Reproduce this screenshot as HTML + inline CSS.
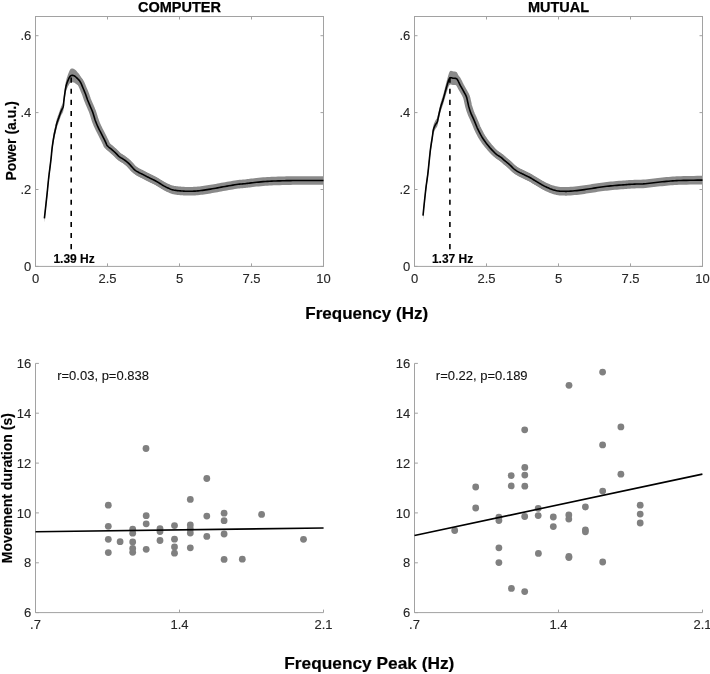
<!DOCTYPE html>
<html><head><meta charset="utf-8"><style>
html,body{margin:0;padding:0;background:#fff;width:710px;height:674px;overflow:hidden}
svg{display:block;will-change:transform}
text{font-family:"Liberation Sans",sans-serif}
.t{font-size:13px;fill:#262626;stroke:#262626;stroke-width:0.12}
.r13{font-size:13px;fill:#111;stroke:#111;stroke-width:0.1}
.b12{font-size:12px;font-weight:bold;fill:#000;stroke:#000;stroke-width:0.15}
.b14{font-size:14px;font-weight:bold;fill:#000;stroke:#000;stroke-width:0.15}
.tt{font-size:14.5px;font-weight:bold;fill:#000;stroke:#000;stroke-width:0.25}
.b17{font-size:17.3px;font-weight:bold;fill:#000;stroke:#000;stroke-width:0.2}
</style></head><body>
<svg width="710" height="674" viewBox="0 0 710 674">
<rect width="710" height="674" fill="#fff"/>
<polygon points="44.40,214.00 44.68,211.47 45.07,207.93 45.54,203.76 46.03,199.34 46.49,195.06 46.90,191.30 47.24,188.05 47.54,185.00 47.82,182.09 48.10,179.25 48.38,176.41 48.70,173.50 49.05,170.47 49.44,167.37 49.83,164.27 50.22,161.25 50.58,158.37 50.90,155.70 51.16,153.29 51.38,151.08 51.57,149.01 51.76,147.03 51.96,145.08 52.20,143.10 52.47,141.07 52.76,139.03 53.07,137.01 53.38,135.06 53.69,133.21 54.00,131.50 54.31,129.91 54.63,128.42 54.96,127.03 55.27,125.74 55.55,124.56 55.80,123.50 55.99,122.61 56.12,121.92 56.22,121.34 56.34,120.78 56.49,120.16 56.70,119.40 56.99,118.47 57.34,117.45 57.72,116.37 58.12,115.26 58.52,114.15 58.90,113.08 59.27,112.01 59.64,110.93 60.01,109.84 60.37,108.78 60.74,107.76 61.10,106.80 61.47,105.94 61.86,105.15 62.25,104.41 62.61,103.67 62.94,102.91 63.20,102.10 63.38,101.25 63.50,100.41 63.58,99.55 63.63,98.66 63.70,97.71 63.80,96.70 63.93,95.61 64.06,94.45 64.21,93.24 64.36,91.99 64.52,90.71 64.70,89.41 64.89,88.05 65.09,86.61 65.29,85.15 65.51,83.70 65.75,82.31 66.00,81.04 66.27,79.89 66.55,78.83 66.84,77.83 67.15,76.88 67.47,75.94 67.80,75.01 68.15,74.05 68.52,73.08 68.90,72.14 69.28,71.27 69.65,70.50 70.00,69.87 70.31,69.40 70.60,69.06 70.87,68.83 71.15,68.67 71.45,68.57 71.80,68.50 72.18,68.47 72.59,68.47 73.01,68.52 73.47,68.65 73.96,68.88 74.50,69.21 75.11,69.70 75.80,70.34 76.53,71.09 77.25,71.88 77.92,72.66 78.50,73.36 78.97,73.96 79.36,74.50 79.71,75.02 80.03,75.56 80.35,76.16 80.70,76.86 81.07,77.68 81.45,78.57 81.83,79.52 82.21,80.52 82.60,81.54 83.00,82.58 83.42,83.65 83.87,84.77 84.32,85.92 84.77,87.07 85.20,88.20 85.60,89.28 85.96,90.31 86.29,91.30 86.60,92.26 86.91,93.23 87.24,94.21 87.60,95.22 88.00,96.26 88.42,97.33 88.86,98.40 89.31,99.48 89.76,100.56 90.20,101.64 90.63,102.69 91.07,103.71 91.50,104.73 91.93,105.78 92.37,106.89 92.80,108.07 93.23,109.37 93.65,110.76 94.07,112.20 94.50,113.66 94.94,115.08 95.40,116.44 95.88,117.73 96.37,118.97 96.88,120.18 97.40,121.38 97.94,122.58 98.50,123.78 99.08,124.99 99.69,126.19 100.32,127.39 100.95,128.59 101.58,129.79 102.20,131.00 102.83,132.26 103.49,133.58 104.14,134.90 104.76,136.17 105.32,137.32 105.80,138.30 106.15,139.06 106.37,139.64 106.54,140.11 106.71,140.51 106.95,140.93 107.30,141.40 107.78,141.92 108.36,142.44 108.99,142.97 109.66,143.50 110.33,144.04 111.00,144.60 111.66,145.17 112.33,145.75 113.02,146.34 113.71,146.94 114.41,147.56 115.10,148.20 115.79,148.88 116.49,149.61 117.19,150.36 117.90,151.10 118.60,151.79 119.30,152.40 119.99,152.91 120.66,153.33 121.34,153.71 122.03,154.08 122.74,154.50 123.50,155.00 124.31,155.57 125.15,156.19 126.02,156.84 126.91,157.54 127.80,158.29 128.70,159.10 129.61,160.03 130.56,161.07 131.51,162.17 132.44,163.26 133.35,164.26 134.20,165.10 134.99,165.77 135.73,166.33 136.43,166.79 137.12,167.21 137.80,167.60 138.50,168.00 139.21,168.40 139.91,168.76 140.61,169.09 141.30,169.42 142.00,169.75 142.70,170.10 143.40,170.46 144.10,170.83 144.80,171.20 145.50,171.57 146.20,171.94 146.90,172.30 147.60,172.66 148.30,173.01 148.99,173.36 149.69,173.70 150.39,174.05 151.10,174.40 151.81,174.75 152.53,175.09 153.25,175.42 153.97,175.77 154.69,176.13 155.40,176.50 156.11,176.89 156.81,177.30 157.51,177.72 158.20,178.14 158.90,178.57 159.60,179.00 160.30,179.43 161.00,179.88 161.70,180.33 162.40,180.77 163.10,181.19 163.80,181.60 164.50,181.98 165.20,182.35 165.89,182.71 166.59,183.05 167.29,183.38 168.00,183.70 168.71,184.02 169.43,184.33 170.15,184.63 170.87,184.91 171.59,185.17 172.30,185.40 173.01,185.59 173.71,185.75 174.41,185.88 175.10,186.00 175.80,186.10 176.50,186.20 177.20,186.29 177.90,186.37 178.60,186.43 179.30,186.49 180.00,186.54 180.70,186.60 181.40,186.66 182.10,186.71 182.79,186.77 183.49,186.82 184.19,186.86 184.90,186.90 185.58,186.93 186.21,186.96 186.86,186.99 187.54,187.00 188.31,187.01 189.20,187.00 190.22,186.98 191.34,186.96 192.55,186.92 193.82,186.87 195.14,186.80 196.50,186.70 197.90,186.57 199.36,186.41 200.88,186.24 202.43,186.04 204.00,185.83 205.60,185.60 207.21,185.36 208.85,185.09 210.51,184.81 212.21,184.52 213.94,184.21 215.70,183.90 217.52,183.57 219.38,183.22 221.28,182.86 223.20,182.49 225.11,182.14 227.00,181.80 228.92,181.47 230.90,181.13 232.88,180.81 234.80,180.50 236.59,180.23 238.20,180.00 239.58,179.83 240.76,179.72 241.82,179.65 242.83,179.58 243.87,179.51 245.00,179.40 246.17,179.26 247.32,179.11 248.49,178.95 249.74,178.79 251.12,178.61 252.70,178.43 254.52,178.23 256.53,178.02 258.69,177.79 260.91,177.57 263.14,177.37 265.30,177.20 267.41,177.06 269.53,176.94 271.64,176.84 273.76,176.75 275.88,176.68 278.00,176.60 280.12,176.53 282.23,176.47 284.35,176.42 286.47,176.37 288.58,176.33 290.70,176.30 292.73,176.27 294.66,176.25 296.59,176.23 298.62,176.22 300.86,176.21 303.40,176.20 306.55,176.19 310.30,176.19 314.24,176.19 318.01,176.20 321.23,176.20 323.50,176.20 323.50,184.80 321.23,184.80 318.01,184.80 314.24,184.79 310.30,184.79 306.55,184.79 303.40,184.80 300.86,184.81 298.62,184.82 296.59,184.83 294.66,184.85 292.73,184.87 290.70,184.90 288.58,184.93 286.47,184.97 284.35,185.02 282.23,185.07 280.12,185.13 278.00,185.20 275.88,185.28 273.76,185.35 271.64,185.44 269.53,185.54 267.41,185.66 265.30,185.80 263.14,185.97 260.91,186.17 258.69,186.39 256.53,186.62 254.52,186.83 252.70,187.03 251.12,187.21 249.74,187.39 248.49,187.55 247.32,187.71 246.17,187.86 245.00,188.00 243.87,188.11 242.83,188.18 241.82,188.25 240.76,188.32 239.58,188.43 238.20,188.60 236.59,188.83 234.80,189.10 232.88,189.41 230.90,189.73 228.92,190.07 227.00,190.40 225.11,190.74 223.20,191.09 221.28,191.46 219.38,191.82 217.52,192.17 215.70,192.50 213.94,192.81 212.21,193.12 210.51,193.41 208.85,193.69 207.21,193.96 205.60,194.20 204.00,194.43 202.43,194.64 200.88,194.84 199.36,195.01 197.90,195.17 196.50,195.30 195.14,195.40 193.82,195.47 192.55,195.53 191.34,195.56 190.22,195.58 189.20,195.60 188.31,195.61 187.54,195.60 186.86,195.59 186.21,195.56 185.58,195.53 184.90,195.50 184.19,195.46 183.49,195.42 182.79,195.37 182.10,195.31 181.40,195.26 180.70,195.20 180.00,195.14 179.30,195.09 178.60,195.03 177.90,194.97 177.20,194.89 176.50,194.80 175.80,194.70 175.10,194.60 174.41,194.48 173.71,194.35 173.01,194.19 172.30,194.00 171.59,193.77 170.87,193.51 170.15,193.23 169.43,192.93 168.71,192.62 168.00,192.30 167.29,191.98 166.59,191.65 165.89,191.31 165.20,190.95 164.50,190.58 163.80,190.20 163.10,189.79 162.40,189.37 161.70,188.93 161.00,188.48 160.30,188.03 159.60,187.60 158.90,187.17 158.20,186.74 157.51,186.32 156.81,185.90 156.11,185.49 155.40,185.10 154.69,184.73 153.97,184.37 153.25,184.03 152.53,183.69 151.81,183.35 151.10,183.00 150.39,182.65 149.69,182.30 148.99,181.96 148.30,181.61 147.60,181.26 146.90,180.90 146.20,180.54 145.50,180.17 144.80,179.80 144.10,179.43 143.40,179.06 142.70,178.70 142.00,178.35 141.30,178.02 140.61,177.69 139.91,177.36 139.21,177.00 138.50,176.60 137.80,176.20 137.12,175.81 136.43,175.39 135.73,174.93 134.99,174.37 134.20,173.70 133.35,172.86 132.44,171.86 131.51,170.78 130.56,169.67 129.61,168.63 128.70,167.70 127.80,166.89 126.91,166.14 126.02,165.44 125.15,164.79 124.31,164.17 123.50,163.60 122.74,163.10 122.03,162.68 121.34,162.31 120.66,161.93 119.99,161.51 119.30,161.00 118.60,160.39 117.90,159.70 117.19,158.96 116.49,158.21 115.79,157.48 115.10,156.80 114.41,156.16 113.71,155.54 113.02,154.94 112.33,154.35 111.66,153.77 111.00,153.20 110.33,152.64 109.66,152.10 108.99,151.57 108.36,151.04 107.78,150.52 107.30,150.00 106.95,149.53 106.71,149.12 106.54,148.71 106.37,148.24 106.15,147.66 105.80,146.90 105.32,145.93 104.76,144.78 104.14,143.51 103.49,142.18 102.83,140.86 102.20,139.60 101.58,138.40 100.95,137.20 100.32,136.01 99.69,134.82 99.08,133.62 98.50,132.42 97.94,131.22 97.40,130.04 96.88,128.85 96.37,127.65 95.88,126.43 95.40,125.16 94.94,123.82 94.50,122.41 94.07,120.98 93.65,119.56 93.23,118.19 92.80,116.93 92.37,115.78 91.93,114.71 91.50,113.70 91.07,112.73 90.63,111.75 90.20,110.76 89.76,109.75 89.31,108.73 88.86,107.72 88.42,106.73 88.00,105.74 87.60,104.78 87.24,103.85 86.91,102.94 86.60,102.05 86.29,101.16 85.96,100.25 85.60,99.32 85.20,98.35 84.77,97.35 84.32,96.33 83.87,95.33 83.42,94.35 83.00,93.42 82.60,92.53 82.21,91.64 81.83,90.78 81.45,89.97 81.07,89.21 80.70,88.54 80.35,87.96 80.03,87.48 79.71,87.07 79.36,86.67 78.97,86.28 78.50,85.84 77.92,85.33 77.25,84.77 76.53,84.20 75.80,83.65 75.11,83.16 74.50,82.79 73.96,82.54 73.47,82.38 73.01,82.29 72.59,82.26 72.18,82.27 71.80,82.30 71.45,82.33 71.15,82.37 70.87,82.45 70.60,82.59 70.31,82.81 70.00,83.13 69.65,83.56 69.28,84.10 68.90,84.72 68.52,85.39 68.15,86.09 67.80,86.79 67.47,87.48 67.15,88.18 66.84,88.92 66.55,89.71 66.27,90.58 66.00,91.56 65.75,92.67 65.51,93.92 65.29,95.24 65.09,96.59 64.89,97.93 64.70,99.19 64.52,100.41 64.36,101.61 64.21,102.80 64.06,103.95 63.93,105.06 63.80,106.10 63.70,107.08 63.63,108.00 63.58,108.87 63.50,109.71 63.38,110.51 63.20,111.30 62.94,112.04 62.61,112.72 62.25,113.38 61.86,114.05 61.47,114.78 61.10,115.60 60.74,116.51 60.37,117.50 60.01,118.54 59.64,119.60 59.27,120.67 58.90,121.72 58.52,122.79 58.12,123.89 57.72,124.99 57.34,126.07 56.99,127.08 56.70,128.00 56.49,128.77 56.34,129.39 56.22,129.95 56.12,130.53 55.99,131.22 55.80,132.10 55.55,133.17 55.27,134.35 54.96,135.63 54.63,137.02 54.31,138.51 54.00,140.10 53.69,141.81 53.38,143.66 53.07,145.61 52.76,147.63 52.47,149.67 52.20,151.70 51.96,153.68 51.76,155.63 51.57,157.61 51.38,159.68 51.16,161.89 50.90,164.30 50.58,166.97 50.22,169.85 49.83,172.88 49.44,175.97 49.05,179.07 48.70,182.10 48.38,185.01 48.10,187.85 47.82,190.69 47.54,193.60 47.24,196.65 46.90,199.90 46.49,203.66 46.03,207.94 45.54,212.36 45.07,216.53 44.68,220.07 44.40,222.60" fill="#8a8a8a"/>
<polyline points="71.15,75.52 71.45,75.45 71.80,75.40 72.18,75.37 72.59,75.36 73.01,75.41 73.47,75.51 73.96,75.71 74.50,76.00 75.11,76.43 75.80,77.00 76.53,77.64 77.25,78.33 77.92,78.99 78.50,79.60 78.97,80.12 79.36,80.59 79.71,81.04 80.03,81.52 80.35,82.06 80.70,82.70 81.07,83.44 81.45,84.27 81.83,85.15 82.21,86.08 82.60,87.03 83.00,88.00 83.42,89.00 83.87,90.05 84.32,91.12 84.77,92.21 85.20,93.27 85.60,94.30 85.96,95.28 86.29,96.23 86.60,97.16 86.91,98.09 87.24,99.03 87.60,100.00 88.00,101.00 88.42,102.03 88.86,103.06 89.31,104.11 89.76,105.16 90.20,106.20 90.63,107.22 91.07,108.22 91.50,109.22 91.93,110.25 92.37,111.33 92.80,112.50 93.23,113.78 93.65,115.16 94.07,116.59 94.50,118.03 94.94,119.45 95.40,120.80 95.88,122.08 96.37,123.31 96.88,124.52 97.40,125.71 97.94,126.90 98.50,128.10 99.08,129.30 99.69,130.50 100.32,131.70 100.95,132.90 101.58,134.10 102.20,135.30 102.83,136.56 103.49,137.88 104.14,139.21 104.76,140.47 105.32,141.63 105.80,142.60 106.15,143.36 106.37,143.94 106.54,144.41 106.71,144.81 106.95,145.23 107.30,145.70 107.78,146.22 108.36,146.74 108.99,147.27 109.66,147.80 110.33,148.34 111.00,148.90 111.66,149.47 112.33,150.05 113.02,150.64 113.71,151.24 114.41,151.86 115.10,152.50 115.79,153.18 116.49,153.91 117.19,154.66 117.90,155.40 118.60,156.09 119.30,156.70 119.99,157.21 120.66,157.63 121.34,158.01 122.03,158.38 122.74,158.80 123.50,159.30 124.31,159.87 125.15,160.49 126.02,161.14 126.91,161.84 127.80,162.59 128.70,163.40 129.61,164.33 130.56,165.37 131.51,166.48 132.44,167.56 133.35,168.56 134.20,169.40 134.99,170.07 135.73,170.63 136.43,171.09 137.12,171.51 137.80,171.90 138.50,172.30 139.21,172.70 139.91,173.06 140.61,173.39 141.30,173.72 142.00,174.05 142.70,174.40 143.40,174.76 144.10,175.13 144.80,175.50 145.50,175.87 146.20,176.24 146.90,176.60 147.60,176.96 148.30,177.31 148.99,177.66 149.69,178.00 150.39,178.35 151.10,178.70 151.81,179.05 152.53,179.39 153.25,179.72 153.97,180.07 154.69,180.43 155.40,180.80 156.11,181.19 156.81,181.60 157.51,182.02 158.20,182.44 158.90,182.87 159.60,183.30 160.30,183.73 161.00,184.18 161.70,184.63 162.40,185.07 163.10,185.49 163.80,185.90 164.50,186.28 165.20,186.65 165.89,187.01 166.59,187.35 167.29,187.68 168.00,188.00 168.71,188.32 169.43,188.63 170.15,188.93 170.87,189.21 171.59,189.47 172.30,189.70 173.01,189.89 173.71,190.05 174.41,190.18 175.10,190.30 175.80,190.40 176.50,190.50 177.20,190.59 177.90,190.67 178.60,190.73 179.30,190.79 180.00,190.84 180.70,190.90 181.40,190.96 182.10,191.01 182.79,191.07 183.49,191.12 184.19,191.16 184.90,191.20 185.58,191.23 186.21,191.26 186.86,191.29 187.54,191.30 188.31,191.31 189.20,191.30 190.22,191.28 191.34,191.26 192.55,191.22 193.82,191.17 195.14,191.10 196.50,191.00 197.90,190.87 199.36,190.71 200.88,190.54 202.43,190.34 204.00,190.13 205.60,189.90 207.21,189.66 208.85,189.39 210.51,189.11 212.21,188.82 213.94,188.51 215.70,188.20 217.52,187.87 219.38,187.52 221.28,187.16 223.20,186.79 225.11,186.44 227.00,186.10 228.92,185.77 230.90,185.43 232.88,185.11 234.80,184.80 236.59,184.53 238.20,184.30 239.58,184.13 240.76,184.02 241.82,183.95 242.83,183.88 243.87,183.81 245.00,183.70 246.17,183.56 247.32,183.41 248.49,183.25 249.74,183.09 251.12,182.91 252.70,182.73 254.52,182.53 256.53,182.32 258.69,182.09 260.91,181.87 263.14,181.67 265.30,181.50 267.41,181.36 269.53,181.24 271.64,181.14 273.76,181.05 275.88,180.98 278.00,180.90 280.12,180.83 282.23,180.77 284.35,180.72 286.47,180.67 288.58,180.63 290.70,180.60 292.73,180.57 294.66,180.55 296.59,180.53 298.62,180.52 300.86,180.51 303.40,180.50 306.55,180.49 310.30,180.49 314.24,180.49 318.01,180.50 321.23,180.50 323.50,180.50" fill="none" stroke="#8a8a8a" stroke-width="7" stroke-linejoin="round"/>
<rect x="35.5" y="16.5" width="288.0" height="249.9" fill="none" stroke="#a2a2a2" stroke-width="1"/>
<line x1="35.5" y1="266.4" x2="35.5" y2="263.4" stroke="#a2a2a2" stroke-width="1"/>
<line x1="35.5" y1="16.5" x2="35.5" y2="19.5" stroke="#a2a2a2" stroke-width="1"/>
<line x1="107.5" y1="266.4" x2="107.5" y2="263.4" stroke="#a2a2a2" stroke-width="1"/>
<line x1="107.5" y1="16.5" x2="107.5" y2="19.5" stroke="#a2a2a2" stroke-width="1"/>
<line x1="179.5" y1="266.4" x2="179.5" y2="263.4" stroke="#a2a2a2" stroke-width="1"/>
<line x1="179.5" y1="16.5" x2="179.5" y2="19.5" stroke="#a2a2a2" stroke-width="1"/>
<line x1="251.5" y1="266.4" x2="251.5" y2="263.4" stroke="#a2a2a2" stroke-width="1"/>
<line x1="251.5" y1="16.5" x2="251.5" y2="19.5" stroke="#a2a2a2" stroke-width="1"/>
<line x1="323.5" y1="266.4" x2="323.5" y2="263.4" stroke="#a2a2a2" stroke-width="1"/>
<line x1="323.5" y1="16.5" x2="323.5" y2="19.5" stroke="#a2a2a2" stroke-width="1"/>
<line x1="35.5" y1="266.4" x2="38.5" y2="266.4" stroke="#a2a2a2" stroke-width="1"/>
<line x1="323.5" y1="266.4" x2="320.5" y2="266.4" stroke="#a2a2a2" stroke-width="1"/>
<text x="31.3" y="271.0" text-anchor="end" class="t">0</text>
<line x1="35.5" y1="189.5" x2="38.5" y2="189.5" stroke="#a2a2a2" stroke-width="1"/>
<line x1="323.5" y1="189.5" x2="320.5" y2="189.5" stroke="#a2a2a2" stroke-width="1"/>
<text x="31.3" y="194.1" text-anchor="end" class="t">.2</text>
<line x1="35.5" y1="112.6" x2="38.5" y2="112.6" stroke="#a2a2a2" stroke-width="1"/>
<line x1="323.5" y1="112.6" x2="320.5" y2="112.6" stroke="#a2a2a2" stroke-width="1"/>
<text x="31.3" y="117.2" text-anchor="end" class="t">.4</text>
<line x1="35.5" y1="35.7" x2="38.5" y2="35.7" stroke="#a2a2a2" stroke-width="1"/>
<line x1="323.5" y1="35.7" x2="320.5" y2="35.7" stroke="#a2a2a2" stroke-width="1"/>
<text x="31.3" y="40.3" text-anchor="end" class="t">.6</text>
<text x="35.5" y="282.8" text-anchor="middle" class="t">0</text>
<text x="107.5" y="282.8" text-anchor="middle" class="t">2.5</text>
<text x="179.5" y="282.8" text-anchor="middle" class="t">5</text>
<text x="251.5" y="282.8" text-anchor="middle" class="t">7.5</text>
<text x="323.5" y="282.8" text-anchor="middle" class="t">10</text>
<polyline points="44.40,218.30 44.68,215.77 45.07,212.23 45.54,208.06 46.03,203.64 46.49,199.36 46.90,195.60 47.24,192.35 47.54,189.30 47.82,186.39 48.10,183.55 48.38,180.71 48.70,177.80 49.05,174.77 49.44,171.67 49.83,168.58 50.22,165.55 50.58,162.67 50.90,160.00 51.16,157.59 51.38,155.38 51.57,153.31 51.76,151.33 51.96,149.38 52.20,147.40 52.47,145.37 52.76,143.33 53.07,141.31 53.38,139.36 53.69,137.51 54.00,135.80 54.31,134.21 54.63,132.72 54.96,131.33 55.27,130.04 55.55,128.87 55.80,127.80 55.99,126.92 56.12,126.23 56.22,125.64 56.34,125.09 56.49,124.47 56.70,123.70 56.99,122.78 57.34,121.76 57.72,120.68 58.12,119.57 58.52,118.47 58.90,117.40 59.27,116.34 59.64,115.26 60.01,114.19 60.37,113.14 60.74,112.13 61.10,111.20 61.47,110.36 61.86,109.60 62.25,108.89 62.61,108.20 62.94,107.48 63.20,106.70 63.38,105.88 63.50,105.06 63.58,104.21 63.63,103.33 63.70,102.40 63.80,101.40 63.93,100.33 64.06,99.20 64.21,98.02 64.36,96.80 64.52,95.56 64.70,94.30 64.89,92.99 65.09,91.60 65.29,90.19 65.51,88.81 65.75,87.49 66.00,86.30 66.27,85.24 66.55,84.27 66.84,83.38 67.15,82.53 67.47,81.71 67.80,80.90 68.15,80.07 68.52,79.24 68.90,78.43 69.28,77.69 69.65,77.03 70.00,76.50 70.31,76.11 70.60,75.83 70.87,75.64 71.15,75.52 71.45,75.45 71.80,75.40 72.18,75.37 72.59,75.36 73.01,75.41 73.47,75.51 73.96,75.71 74.50,76.00 75.11,76.43 75.80,77.00 76.53,77.64 77.25,78.33 77.92,78.99 78.50,79.60 78.97,80.12 79.36,80.59 79.71,81.04 80.03,81.52 80.35,82.06 80.70,82.70 81.07,83.44 81.45,84.27 81.83,85.15 82.21,86.08 82.60,87.03 83.00,88.00 83.42,89.00 83.87,90.05 84.32,91.12 84.77,92.21 85.20,93.27 85.60,94.30 85.96,95.28 86.29,96.23 86.60,97.16 86.91,98.09 87.24,99.03 87.60,100.00 88.00,101.00 88.42,102.03 88.86,103.06 89.31,104.11 89.76,105.16 90.20,106.20 90.63,107.22 91.07,108.22 91.50,109.22 91.93,110.25 92.37,111.33 92.80,112.50 93.23,113.78 93.65,115.16 94.07,116.59 94.50,118.03 94.94,119.45 95.40,120.80 95.88,122.08 96.37,123.31 96.88,124.52 97.40,125.71 97.94,126.90 98.50,128.10 99.08,129.30 99.69,130.50 100.32,131.70 100.95,132.90 101.58,134.10 102.20,135.30 102.83,136.56 103.49,137.88 104.14,139.21 104.76,140.47 105.32,141.63 105.80,142.60 106.15,143.36 106.37,143.94 106.54,144.41 106.71,144.81 106.95,145.23 107.30,145.70 107.78,146.22 108.36,146.74 108.99,147.27 109.66,147.80 110.33,148.34 111.00,148.90 111.66,149.47 112.33,150.05 113.02,150.64 113.71,151.24 114.41,151.86 115.10,152.50 115.79,153.18 116.49,153.91 117.19,154.66 117.90,155.40 118.60,156.09 119.30,156.70 119.99,157.21 120.66,157.63 121.34,158.01 122.03,158.38 122.74,158.80 123.50,159.30 124.31,159.87 125.15,160.49 126.02,161.14 126.91,161.84 127.80,162.59 128.70,163.40 129.61,164.33 130.56,165.37 131.51,166.48 132.44,167.56 133.35,168.56 134.20,169.40 134.99,170.07 135.73,170.63 136.43,171.09 137.12,171.51 137.80,171.90 138.50,172.30 139.21,172.70 139.91,173.06 140.61,173.39 141.30,173.72 142.00,174.05 142.70,174.40 143.40,174.76 144.10,175.13 144.80,175.50 145.50,175.87 146.20,176.24 146.90,176.60 147.60,176.96 148.30,177.31 148.99,177.66 149.69,178.00 150.39,178.35 151.10,178.70 151.81,179.05 152.53,179.39 153.25,179.72 153.97,180.07 154.69,180.43 155.40,180.80 156.11,181.19 156.81,181.60 157.51,182.02 158.20,182.44 158.90,182.87 159.60,183.30 160.30,183.73 161.00,184.18 161.70,184.63 162.40,185.07 163.10,185.49 163.80,185.90 164.50,186.28 165.20,186.65 165.89,187.01 166.59,187.35 167.29,187.68 168.00,188.00 168.71,188.32 169.43,188.63 170.15,188.93 170.87,189.21 171.59,189.47 172.30,189.70 173.01,189.89 173.71,190.05 174.41,190.18 175.10,190.30 175.80,190.40 176.50,190.50 177.20,190.59 177.90,190.67 178.60,190.73 179.30,190.79 180.00,190.84 180.70,190.90 181.40,190.96 182.10,191.01 182.79,191.07 183.49,191.12 184.19,191.16 184.90,191.20 185.58,191.23 186.21,191.26 186.86,191.29 187.54,191.30 188.31,191.31 189.20,191.30 190.22,191.28 191.34,191.26 192.55,191.22 193.82,191.17 195.14,191.10 196.50,191.00 197.90,190.87 199.36,190.71 200.88,190.54 202.43,190.34 204.00,190.13 205.60,189.90 207.21,189.66 208.85,189.39 210.51,189.11 212.21,188.82 213.94,188.51 215.70,188.20 217.52,187.87 219.38,187.52 221.28,187.16 223.20,186.79 225.11,186.44 227.00,186.10 228.92,185.77 230.90,185.43 232.88,185.11 234.80,184.80 236.59,184.53 238.20,184.30 239.58,184.13 240.76,184.02 241.82,183.95 242.83,183.88 243.87,183.81 245.00,183.70 246.17,183.56 247.32,183.41 248.49,183.25 249.74,183.09 251.12,182.91 252.70,182.73 254.52,182.53 256.53,182.32 258.69,182.09 260.91,181.87 263.14,181.67 265.30,181.50 267.41,181.36 269.53,181.24 271.64,181.14 273.76,181.05 275.88,180.98 278.00,180.90 280.12,180.83 282.23,180.77 284.35,180.72 286.47,180.67 288.58,180.63 290.70,180.60 292.73,180.57 294.66,180.55 296.59,180.53 298.62,180.52 300.86,180.51 303.40,180.50 306.55,180.49 310.30,180.49 314.24,180.49 318.01,180.50 321.23,180.50 323.50,180.50" fill="none" stroke="#000" stroke-width="1.6" stroke-linejoin="round"/>
<line x1="71.2" y1="77.6" x2="71.2" y2="249.2" stroke="#000" stroke-width="1.6" stroke-dasharray="5.1 6"/>
<text x="53.4" y="263" class="b12">1.39 Hz</text>
<text x="179.5" y="11.8" text-anchor="middle" class="tt">COMPUTER</text>
<polygon points="423.00,211.40 423.18,209.68 423.42,207.27 423.71,204.44 424.01,201.41 424.32,198.45 424.60,195.80 424.85,193.44 425.10,191.17 425.34,188.96 425.58,186.78 425.83,184.60 426.10,182.40 426.39,180.18 426.69,177.96 427.01,175.75 427.32,173.54 427.62,171.32 427.90,169.10 428.16,166.85 428.40,164.58 428.63,162.30 428.86,160.04 429.08,157.84 429.30,155.70 429.52,153.65 429.72,151.67 429.93,149.74 430.13,147.83 430.36,145.92 430.60,144.00 430.88,142.01 431.19,139.96 431.52,137.91 431.84,135.92 432.14,134.07 432.40,132.40 432.60,130.94 432.76,129.65 432.89,128.48 433.02,127.41 433.18,126.39 433.40,125.40 433.68,124.44 434.00,123.54 434.34,122.70 434.70,121.91 435.06,121.18 435.40,120.50 435.73,119.93 436.06,119.50 436.38,119.12 436.70,118.71 437.01,118.19 437.30,117.49 437.57,116.59 437.81,115.55 438.05,114.39 438.29,113.17 438.53,111.92 438.80,110.68 439.09,109.42 439.38,108.11 439.69,106.77 440.01,105.42 440.34,104.06 440.70,102.73 441.08,101.41 441.49,100.11 441.92,98.80 442.35,97.47 442.78,96.11 443.20,94.70 443.61,93.20 444.02,91.63 444.43,90.01 444.83,88.41 445.22,86.84 445.60,85.37 445.96,83.97 446.31,82.61 446.66,81.30 446.99,80.05 447.30,78.88 447.60,77.78 447.88,76.77 448.14,75.82 448.39,74.95 448.63,74.16 448.86,73.46 449.10,72.84 449.33,72.33 449.53,71.92 449.74,71.59 449.96,71.33 450.20,71.12 450.50,70.96 450.85,70.86 451.24,70.87 451.66,70.95 452.10,71.07 452.55,71.21 453.00,71.32 453.48,71.39 453.99,71.45 454.51,71.52 455.02,71.60 455.49,71.71 455.90,71.86 456.21,71.99 456.44,72.07 456.62,72.17 456.82,72.36 457.06,72.71 457.40,73.28 457.85,74.13 458.37,75.24 458.94,76.50 459.53,77.84 460.13,79.15 460.70,80.36 461.26,81.49 461.83,82.60 462.41,83.69 462.97,84.75 463.50,85.77 464.00,86.74 464.46,87.66 464.91,88.51 465.33,89.32 465.71,90.13 466.07,90.94 466.40,91.78 466.68,92.67 466.91,93.56 467.12,94.47 467.31,95.39 467.50,96.31 467.70,97.23 467.91,98.14 468.11,99.04 468.31,99.95 468.51,100.86 468.74,101.79 469.00,102.75 469.29,103.75 469.60,104.78 469.93,105.83 470.28,106.87 470.64,107.90 471.00,108.89 471.38,109.83 471.77,110.74 472.18,111.63 472.59,112.52 473.00,113.40 473.40,114.29 473.79,115.20 474.18,116.12 474.57,117.04 474.95,117.96 475.33,118.86 475.70,119.75 476.04,120.58 476.35,121.37 476.66,122.14 476.98,122.94 477.35,123.81 477.80,124.77 478.33,125.88 478.93,127.09 479.57,128.36 480.24,129.65 480.92,130.91 481.60,132.09 482.27,133.19 482.93,134.24 483.61,135.26 484.31,136.26 485.04,137.27 485.80,138.30 486.61,139.36 487.46,140.43 488.34,141.51 489.23,142.58 490.12,143.61 491.00,144.60 491.87,145.55 492.73,146.47 493.60,147.37 494.47,148.23 495.33,149.04 496.20,149.80 497.09,150.50 497.99,151.13 498.90,151.72 499.79,152.29 500.63,152.84 501.40,153.40 502.09,153.95 502.70,154.49 503.26,155.01 503.81,155.53 504.38,156.06 505.00,156.60 505.66,157.15 506.35,157.69 507.06,158.24 507.77,158.80 508.49,159.38 509.20,160.00 509.91,160.67 510.63,161.39 511.35,162.12 512.07,162.86 512.79,163.56 513.50,164.20 514.21,164.78 514.91,165.32 515.61,165.83 516.30,166.31 517.00,166.77 517.70,167.20 518.40,167.60 519.10,167.97 519.80,168.31 520.50,168.63 521.20,168.96 521.90,169.30 522.60,169.65 523.30,170.00 523.99,170.35 524.69,170.70 525.39,171.05 526.10,171.40 526.81,171.74 527.53,172.08 528.25,172.42 528.97,172.76 529.69,173.12 530.40,173.50 531.11,173.91 531.81,174.33 532.51,174.78 533.20,175.22 533.90,175.67 534.60,176.10 535.30,176.52 536.00,176.94 536.70,177.36 537.40,177.77 538.10,178.18 538.80,178.60 539.50,179.02 540.20,179.45 540.89,179.87 541.59,180.30 542.29,180.71 543.00,181.10 543.71,181.48 544.43,181.84 545.15,182.20 545.87,182.54 546.59,182.88 547.30,183.20 548.01,183.51 548.71,183.81 549.41,184.10 550.10,184.38 550.80,184.64 551.50,184.90 552.20,185.15 552.90,185.39 553.60,185.61 554.30,185.83 555.00,186.02 555.70,186.20 556.40,186.36 557.10,186.50 557.79,186.62 558.49,186.73 559.19,186.82 559.90,186.90 560.62,186.95 561.36,186.98 562.11,186.99 562.84,187.00 563.54,187.00 564.20,187.00 564.72,187.02 565.08,187.04 565.41,187.06 565.84,187.07 566.50,187.05 567.50,187.00 568.92,186.91 570.67,186.80 572.65,186.66 574.74,186.49 576.82,186.31 578.80,186.10 580.68,185.86 582.57,185.59 584.46,185.30 586.34,184.99 588.22,184.69 590.10,184.40 591.97,184.12 593.84,183.83 595.70,183.54 597.56,183.26 599.43,182.99 601.30,182.73 603.16,182.49 605.02,182.26 606.88,182.03 608.75,181.82 610.65,181.62 612.60,181.42 614.66,181.23 616.83,181.04 619.03,180.86 621.17,180.69 623.19,180.54 625.00,180.40 626.50,180.29 627.73,180.19 628.84,180.12 629.94,180.05 631.19,179.98 632.70,179.90 634.52,179.83 636.53,179.77 638.69,179.71 640.91,179.63 643.14,179.54 645.30,179.40 647.41,179.22 649.53,179.00 651.64,178.75 653.76,178.49 655.88,178.24 658.00,178.00 660.12,177.77 662.23,177.53 664.35,177.30 666.47,177.08 668.58,176.88 670.70,176.70 672.74,176.56 674.70,176.44 676.65,176.34 678.69,176.25 680.91,176.17 683.40,176.10 686.43,176.03 690.00,175.97 693.74,175.91 697.31,175.87 700.35,175.83 702.50,175.80 702.50,184.40 700.35,184.43 697.31,184.47 693.74,184.51 690.00,184.57 686.43,184.63 683.40,184.70 680.91,184.77 678.69,184.85 676.65,184.94 674.70,185.04 672.74,185.16 670.70,185.30 668.58,185.48 666.47,185.68 664.35,185.90 662.23,186.13 660.12,186.37 658.00,186.60 655.88,186.84 653.76,187.09 651.64,187.35 649.53,187.60 647.41,187.82 645.30,188.00 643.14,188.14 640.91,188.23 638.69,188.31 636.53,188.37 634.52,188.43 632.70,188.50 631.19,188.58 629.94,188.65 628.84,188.72 627.73,188.79 626.50,188.89 625.00,189.00 623.19,189.14 621.17,189.29 619.03,189.46 616.83,189.64 614.66,189.83 612.60,190.02 610.65,190.22 608.75,190.42 606.88,190.63 605.02,190.86 603.16,191.09 601.30,191.33 599.43,191.59 597.56,191.86 595.70,192.14 593.84,192.43 591.97,192.72 590.10,193.00 588.22,193.29 586.34,193.59 584.46,193.90 582.57,194.19 580.68,194.46 578.80,194.70 576.82,194.91 574.74,195.09 572.65,195.26 570.67,195.40 568.92,195.51 567.50,195.60 566.50,195.65 565.84,195.67 565.41,195.66 565.08,195.64 564.72,195.62 564.20,195.60 563.54,195.60 562.84,195.60 562.11,195.59 561.36,195.58 560.62,195.55 559.90,195.50 559.19,195.43 558.49,195.33 557.79,195.22 557.10,195.10 556.40,194.96 555.70,194.80 555.00,194.62 554.30,194.43 553.60,194.21 552.90,193.99 552.20,193.75 551.50,193.50 550.80,193.24 550.10,192.98 549.41,192.70 548.71,192.41 548.01,192.11 547.30,191.80 546.59,191.48 545.87,191.14 545.15,190.80 544.43,190.44 543.71,190.08 543.00,189.70 542.29,189.31 541.59,188.90 540.89,188.47 540.20,188.05 539.50,187.62 538.80,187.20 538.10,186.78 537.40,186.37 536.70,185.96 536.00,185.54 535.30,185.12 534.60,184.70 533.90,184.27 533.20,183.82 532.51,183.38 531.81,182.93 531.11,182.51 530.40,182.10 529.69,181.72 528.97,181.36 528.25,181.02 527.53,180.68 526.81,180.34 526.10,180.00 525.39,179.65 524.69,179.30 523.99,178.95 523.30,178.60 522.60,178.25 521.90,177.90 521.20,177.56 520.50,177.23 519.80,176.91 519.10,176.57 518.40,176.20 517.70,175.80 517.00,175.37 516.30,174.91 515.61,174.43 514.91,173.92 514.21,173.38 513.50,172.80 512.79,172.16 512.07,171.46 511.35,170.73 510.63,169.99 509.91,169.27 509.20,168.60 508.49,167.98 507.77,167.40 507.06,166.84 506.35,166.29 505.66,165.75 505.00,165.20 504.38,164.66 503.81,164.13 503.26,163.61 502.70,163.09 502.09,162.55 501.40,162.00 500.63,161.44 499.79,160.89 498.90,160.33 497.99,159.73 497.09,159.10 496.20,158.40 495.33,157.64 494.47,156.83 493.60,155.97 492.73,155.07 491.87,154.15 491.00,153.20 490.12,152.21 489.23,151.18 488.34,150.11 487.46,149.03 486.61,147.96 485.80,146.90 485.04,145.87 484.31,144.87 483.61,143.87 482.93,142.85 482.27,141.80 481.60,140.71 480.92,139.53 480.24,138.27 479.57,136.99 478.93,135.72 478.33,134.52 477.80,133.43 477.35,132.47 476.98,131.61 476.66,130.82 476.35,130.05 476.04,129.28 475.70,128.45 475.33,127.58 474.95,126.69 474.57,125.79 474.18,124.89 473.79,123.99 473.40,123.11 473.00,122.24 472.59,121.39 472.18,120.54 471.77,119.69 471.38,118.81 471.00,117.91 470.64,116.97 470.28,115.99 469.93,114.99 469.60,113.98 469.29,113.00 469.00,112.05 468.74,111.14 468.51,110.24 468.31,109.37 468.11,108.50 467.91,107.64 467.70,106.77 467.50,105.89 467.31,105.01 467.12,104.14 466.91,103.27 466.68,102.43 466.40,101.62 466.07,100.85 465.71,100.13 465.33,99.44 464.91,98.74 464.46,98.02 464.00,97.26 463.50,96.44 462.97,95.60 462.41,94.74 461.83,93.85 461.26,92.95 460.70,92.04 460.13,91.04 459.53,89.94 458.94,88.82 458.37,87.76 457.85,86.84 457.40,86.12 457.06,85.66 456.82,85.39 456.62,85.25 456.44,85.20 456.21,85.19 455.90,85.14 455.49,85.09 455.02,85.08 454.51,85.09 453.99,85.11 453.48,85.11 453.00,85.08 452.55,85.00 452.10,84.87 451.66,84.73 451.24,84.58 450.85,84.48 450.50,84.44 450.20,84.48 449.96,84.56 449.74,84.70 449.53,84.91 449.33,85.19 449.10,85.56 448.86,86.01 448.63,86.55 448.39,87.17 448.14,87.86 447.88,88.61 447.60,89.42 447.30,90.29 446.99,91.24 446.66,92.25 446.31,93.33 445.96,94.46 445.60,95.63 445.22,96.89 444.83,98.25 444.43,99.67 444.02,101.11 443.61,102.54 443.20,103.90 442.78,105.20 442.35,106.47 441.92,107.71 441.49,108.95 441.08,110.20 440.70,111.47 440.34,112.78 440.01,114.11 439.69,115.45 439.38,116.78 439.09,118.07 438.80,119.32 438.53,120.56 438.29,121.80 438.05,123.02 437.81,124.17 437.57,125.21 437.30,126.11 437.01,126.80 436.70,127.32 436.38,127.72 436.06,128.10 435.73,128.54 435.40,129.10 435.06,129.78 434.70,130.52 434.34,131.30 434.00,132.14 433.68,133.04 433.40,134.00 433.18,134.99 433.02,136.01 432.89,137.08 432.76,138.25 432.60,139.54 432.40,141.00 432.14,142.67 431.84,144.52 431.52,146.51 431.19,148.56 430.88,150.61 430.60,152.60 430.36,154.52 430.13,156.43 429.93,158.34 429.72,160.27 429.52,162.25 429.30,164.30 429.08,166.44 428.86,168.64 428.63,170.90 428.40,173.18 428.16,175.45 427.90,177.70 427.62,179.92 427.32,182.14 427.01,184.35 426.69,186.56 426.39,188.78 426.10,191.00 425.83,193.20 425.58,195.38 425.34,197.56 425.10,199.77 424.85,202.04 424.60,204.40 424.32,207.05 424.01,210.01 423.71,213.04 423.42,215.87 423.18,218.28 423.00,220.00" fill="#8a8a8a"/>
<polyline points="451.24,77.73 451.66,77.84 452.10,77.97 452.55,78.11 453.00,78.20 453.48,78.25 453.99,78.28 454.51,78.31 455.02,78.34 455.49,78.40 455.90,78.50 456.21,78.59 456.44,78.64 456.62,78.71 456.82,78.87 457.06,79.18 457.40,79.70 457.85,80.48 458.37,81.50 458.94,82.66 459.53,83.89 460.13,85.10 460.70,86.20 461.26,87.22 461.83,88.23 462.41,89.21 462.97,90.17 463.50,91.11 464.00,92.00 464.46,92.84 464.91,93.63 465.33,94.38 465.71,95.13 466.07,95.89 466.40,96.70 466.68,97.55 466.91,98.42 467.12,99.31 467.31,100.20 467.50,101.10 467.70,102.00 467.91,102.89 468.11,103.77 468.31,104.66 468.51,105.55 468.74,106.46 469.00,107.40 469.29,108.37 469.60,109.38 469.93,110.41 470.28,111.43 470.64,112.43 471.00,113.40 471.38,114.32 471.77,115.21 472.18,116.09 472.59,116.95 473.00,117.82 473.40,118.70 473.79,119.60 474.18,120.51 474.57,121.42 474.95,122.33 475.33,123.22 475.70,124.10 476.04,124.93 476.35,125.71 476.66,126.48 476.98,127.28 477.35,128.14 477.80,129.10 478.33,130.20 478.93,131.40 479.57,132.68 480.24,133.96 480.92,135.22 481.60,136.40 482.27,137.50 482.93,138.54 483.61,139.56 484.31,140.57 485.04,141.57 485.80,142.60 486.61,143.66 487.46,144.73 488.34,145.81 489.23,146.88 490.12,147.91 491.00,148.90 491.87,149.85 492.73,150.77 493.60,151.67 494.47,152.53 495.33,153.34 496.20,154.10 497.09,154.80 497.99,155.43 498.90,156.02 499.79,156.59 500.63,157.14 501.40,157.70 502.09,158.25 502.70,158.79 503.26,159.31 503.81,159.83 504.38,160.36 505.00,160.90 505.66,161.45 506.35,161.99 507.06,162.54 507.77,163.10 508.49,163.68 509.20,164.30 509.91,164.97 510.63,165.69 511.35,166.43 512.07,167.16 512.79,167.86 513.50,168.50 514.21,169.08 514.91,169.62 515.61,170.13 516.30,170.61 517.00,171.07 517.70,171.50 518.40,171.90 519.10,172.27 519.80,172.61 520.50,172.93 521.20,173.26 521.90,173.60 522.60,173.95 523.30,174.30 523.99,174.65 524.69,175.00 525.39,175.35 526.10,175.70 526.81,176.04 527.53,176.38 528.25,176.72 528.97,177.06 529.69,177.42 530.40,177.80 531.11,178.21 531.81,178.63 532.51,179.08 533.20,179.52 533.90,179.97 534.60,180.40 535.30,180.82 536.00,181.24 536.70,181.66 537.40,182.07 538.10,182.48 538.80,182.90 539.50,183.32 540.20,183.75 540.89,184.17 541.59,184.60 542.29,185.01 543.00,185.40 543.71,185.78 544.43,186.14 545.15,186.50 545.87,186.84 546.59,187.18 547.30,187.50 548.01,187.81 548.71,188.11 549.41,188.40 550.10,188.68 550.80,188.94 551.50,189.20 552.20,189.45 552.90,189.69 553.60,189.91 554.30,190.13 555.00,190.32 555.70,190.50 556.40,190.66 557.10,190.80 557.79,190.92 558.49,191.03 559.19,191.12 559.90,191.20 560.62,191.25 561.36,191.28 562.11,191.29 562.84,191.30 563.54,191.30 564.20,191.30 564.72,191.32 565.08,191.34 565.41,191.36 565.84,191.37 566.50,191.35 567.50,191.30 568.92,191.21 570.67,191.10 572.65,190.96 574.74,190.79 576.82,190.61 578.80,190.40 580.68,190.16 582.57,189.89 584.46,189.60 586.34,189.29 588.22,188.99 590.10,188.70 591.97,188.42 593.84,188.13 595.70,187.84 597.56,187.56 599.43,187.29 601.30,187.03 603.16,186.79 605.02,186.56 606.88,186.33 608.75,186.12 610.65,185.92 612.60,185.72 614.66,185.53 616.83,185.34 619.03,185.16 621.17,184.99 623.19,184.84 625.00,184.70 626.50,184.59 627.73,184.49 628.84,184.42 629.94,184.35 631.19,184.28 632.70,184.20 634.52,184.13 636.53,184.07 638.69,184.01 640.91,183.93 643.14,183.84 645.30,183.70 647.41,183.52 649.53,183.30 651.64,183.05 653.76,182.79 655.88,182.54 658.00,182.30 660.12,182.07 662.23,181.83 664.35,181.60 666.47,181.38 668.58,181.18 670.70,181.00 672.74,180.86 674.70,180.74 676.65,180.64 678.69,180.55 680.91,180.47 683.40,180.40 686.43,180.33 690.00,180.27 693.74,180.21 697.31,180.17 700.35,180.13 702.50,180.10" fill="none" stroke="#8a8a8a" stroke-width="7" stroke-linejoin="round"/>
<rect x="414.5" y="16.5" width="288.0" height="249.9" fill="none" stroke="#a2a2a2" stroke-width="1"/>
<line x1="414.5" y1="266.4" x2="414.5" y2="263.4" stroke="#a2a2a2" stroke-width="1"/>
<line x1="414.5" y1="16.5" x2="414.5" y2="19.5" stroke="#a2a2a2" stroke-width="1"/>
<line x1="486.5" y1="266.4" x2="486.5" y2="263.4" stroke="#a2a2a2" stroke-width="1"/>
<line x1="486.5" y1="16.5" x2="486.5" y2="19.5" stroke="#a2a2a2" stroke-width="1"/>
<line x1="558.5" y1="266.4" x2="558.5" y2="263.4" stroke="#a2a2a2" stroke-width="1"/>
<line x1="558.5" y1="16.5" x2="558.5" y2="19.5" stroke="#a2a2a2" stroke-width="1"/>
<line x1="630.5" y1="266.4" x2="630.5" y2="263.4" stroke="#a2a2a2" stroke-width="1"/>
<line x1="630.5" y1="16.5" x2="630.5" y2="19.5" stroke="#a2a2a2" stroke-width="1"/>
<line x1="702.5" y1="266.4" x2="702.5" y2="263.4" stroke="#a2a2a2" stroke-width="1"/>
<line x1="702.5" y1="16.5" x2="702.5" y2="19.5" stroke="#a2a2a2" stroke-width="1"/>
<line x1="414.5" y1="266.4" x2="417.5" y2="266.4" stroke="#a2a2a2" stroke-width="1"/>
<line x1="702.5" y1="266.4" x2="699.5" y2="266.4" stroke="#a2a2a2" stroke-width="1"/>
<text x="410.3" y="271.0" text-anchor="end" class="t">0</text>
<line x1="414.5" y1="189.5" x2="417.5" y2="189.5" stroke="#a2a2a2" stroke-width="1"/>
<line x1="702.5" y1="189.5" x2="699.5" y2="189.5" stroke="#a2a2a2" stroke-width="1"/>
<text x="410.3" y="194.1" text-anchor="end" class="t">.2</text>
<line x1="414.5" y1="112.6" x2="417.5" y2="112.6" stroke="#a2a2a2" stroke-width="1"/>
<line x1="702.5" y1="112.6" x2="699.5" y2="112.6" stroke="#a2a2a2" stroke-width="1"/>
<text x="410.3" y="117.2" text-anchor="end" class="t">.4</text>
<line x1="414.5" y1="35.7" x2="417.5" y2="35.7" stroke="#a2a2a2" stroke-width="1"/>
<line x1="702.5" y1="35.7" x2="699.5" y2="35.7" stroke="#a2a2a2" stroke-width="1"/>
<text x="410.3" y="40.3" text-anchor="end" class="t">.6</text>
<text x="414.5" y="282.8" text-anchor="middle" class="t">0</text>
<text x="486.5" y="282.8" text-anchor="middle" class="t">2.5</text>
<text x="558.5" y="282.8" text-anchor="middle" class="t">5</text>
<text x="630.5" y="282.8" text-anchor="middle" class="t">7.5</text>
<text x="702.5" y="282.8" text-anchor="middle" class="t">10</text>
<polyline points="423.00,215.70 423.18,213.98 423.42,211.57 423.71,208.74 424.01,205.71 424.32,202.75 424.60,200.10 424.85,197.74 425.10,195.47 425.34,193.26 425.58,191.08 425.83,188.90 426.10,186.70 426.39,184.48 426.69,182.26 427.01,180.05 427.32,177.84 427.62,175.62 427.90,173.40 428.16,171.15 428.40,168.88 428.63,166.60 428.86,164.34 429.08,162.14 429.30,160.00 429.52,157.95 429.72,155.97 429.93,154.04 430.13,152.13 430.36,150.22 430.60,148.30 430.88,146.31 431.19,144.26 431.52,142.21 431.84,140.22 432.14,138.37 432.40,136.70 432.60,135.24 432.76,133.95 432.89,132.78 433.02,131.71 433.18,130.69 433.40,129.70 433.68,128.74 434.00,127.84 434.34,127.00 434.70,126.21 435.06,125.48 435.40,124.80 435.73,124.23 436.06,123.80 436.38,123.42 436.70,123.01 437.01,122.50 437.30,121.80 437.57,120.90 437.81,119.86 438.05,118.71 438.29,117.49 438.53,116.24 438.80,115.00 439.09,113.75 439.38,112.44 439.69,111.11 440.01,109.77 440.34,108.42 440.70,107.10 441.08,105.81 441.49,104.53 441.92,103.26 442.35,101.97 442.78,100.66 443.20,99.30 443.61,97.87 444.02,96.37 444.43,94.84 444.83,93.33 445.22,91.87 445.60,90.50 445.96,89.21 446.31,87.97 446.66,86.77 446.99,85.64 447.30,84.58 447.60,83.60 447.88,82.69 448.14,81.84 448.39,81.06 448.63,80.36 448.86,79.74 449.10,79.20 449.33,78.76 449.53,78.41 449.74,78.14 449.96,77.94 450.20,77.80 450.50,77.70 450.85,77.67 451.24,77.73 451.66,77.84 452.10,77.97 452.55,78.11 453.00,78.20 453.48,78.25 453.99,78.28 454.51,78.31 455.02,78.34 455.49,78.40 455.90,78.50 456.21,78.59 456.44,78.64 456.62,78.71 456.82,78.87 457.06,79.18 457.40,79.70 457.85,80.48 458.37,81.50 458.94,82.66 459.53,83.89 460.13,85.10 460.70,86.20 461.26,87.22 461.83,88.23 462.41,89.21 462.97,90.17 463.50,91.11 464.00,92.00 464.46,92.84 464.91,93.63 465.33,94.38 465.71,95.13 466.07,95.89 466.40,96.70 466.68,97.55 466.91,98.42 467.12,99.31 467.31,100.20 467.50,101.10 467.70,102.00 467.91,102.89 468.11,103.77 468.31,104.66 468.51,105.55 468.74,106.46 469.00,107.40 469.29,108.37 469.60,109.38 469.93,110.41 470.28,111.43 470.64,112.43 471.00,113.40 471.38,114.32 471.77,115.21 472.18,116.09 472.59,116.95 473.00,117.82 473.40,118.70 473.79,119.60 474.18,120.51 474.57,121.42 474.95,122.33 475.33,123.22 475.70,124.10 476.04,124.93 476.35,125.71 476.66,126.48 476.98,127.28 477.35,128.14 477.80,129.10 478.33,130.20 478.93,131.40 479.57,132.68 480.24,133.96 480.92,135.22 481.60,136.40 482.27,137.50 482.93,138.54 483.61,139.56 484.31,140.57 485.04,141.57 485.80,142.60 486.61,143.66 487.46,144.73 488.34,145.81 489.23,146.88 490.12,147.91 491.00,148.90 491.87,149.85 492.73,150.77 493.60,151.67 494.47,152.53 495.33,153.34 496.20,154.10 497.09,154.80 497.99,155.43 498.90,156.02 499.79,156.59 500.63,157.14 501.40,157.70 502.09,158.25 502.70,158.79 503.26,159.31 503.81,159.83 504.38,160.36 505.00,160.90 505.66,161.45 506.35,161.99 507.06,162.54 507.77,163.10 508.49,163.68 509.20,164.30 509.91,164.97 510.63,165.69 511.35,166.43 512.07,167.16 512.79,167.86 513.50,168.50 514.21,169.08 514.91,169.62 515.61,170.13 516.30,170.61 517.00,171.07 517.70,171.50 518.40,171.90 519.10,172.27 519.80,172.61 520.50,172.93 521.20,173.26 521.90,173.60 522.60,173.95 523.30,174.30 523.99,174.65 524.69,175.00 525.39,175.35 526.10,175.70 526.81,176.04 527.53,176.38 528.25,176.72 528.97,177.06 529.69,177.42 530.40,177.80 531.11,178.21 531.81,178.63 532.51,179.08 533.20,179.52 533.90,179.97 534.60,180.40 535.30,180.82 536.00,181.24 536.70,181.66 537.40,182.07 538.10,182.48 538.80,182.90 539.50,183.32 540.20,183.75 540.89,184.17 541.59,184.60 542.29,185.01 543.00,185.40 543.71,185.78 544.43,186.14 545.15,186.50 545.87,186.84 546.59,187.18 547.30,187.50 548.01,187.81 548.71,188.11 549.41,188.40 550.10,188.68 550.80,188.94 551.50,189.20 552.20,189.45 552.90,189.69 553.60,189.91 554.30,190.13 555.00,190.32 555.70,190.50 556.40,190.66 557.10,190.80 557.79,190.92 558.49,191.03 559.19,191.12 559.90,191.20 560.62,191.25 561.36,191.28 562.11,191.29 562.84,191.30 563.54,191.30 564.20,191.30 564.72,191.32 565.08,191.34 565.41,191.36 565.84,191.37 566.50,191.35 567.50,191.30 568.92,191.21 570.67,191.10 572.65,190.96 574.74,190.79 576.82,190.61 578.80,190.40 580.68,190.16 582.57,189.89 584.46,189.60 586.34,189.29 588.22,188.99 590.10,188.70 591.97,188.42 593.84,188.13 595.70,187.84 597.56,187.56 599.43,187.29 601.30,187.03 603.16,186.79 605.02,186.56 606.88,186.33 608.75,186.12 610.65,185.92 612.60,185.72 614.66,185.53 616.83,185.34 619.03,185.16 621.17,184.99 623.19,184.84 625.00,184.70 626.50,184.59 627.73,184.49 628.84,184.42 629.94,184.35 631.19,184.28 632.70,184.20 634.52,184.13 636.53,184.07 638.69,184.01 640.91,183.93 643.14,183.84 645.30,183.70 647.41,183.52 649.53,183.30 651.64,183.05 653.76,182.79 655.88,182.54 658.00,182.30 660.12,182.07 662.23,181.83 664.35,181.60 666.47,181.38 668.58,181.18 670.70,181.00 672.74,180.86 674.70,180.74 676.65,180.64 678.69,180.55 680.91,180.47 683.40,180.40 686.43,180.33 690.00,180.27 693.74,180.21 697.31,180.17 700.35,180.13 702.50,180.10" fill="none" stroke="#000" stroke-width="1.6" stroke-linejoin="round"/>
<line x1="449.9" y1="77.6" x2="449.9" y2="249.2" stroke="#000" stroke-width="1.6" stroke-dasharray="5.1 6"/>
<text x="431.9" y="263" class="b12">1.37 Hz</text>
<text x="558.5" y="11.8" text-anchor="middle" class="tt">MUTUAL</text>
<text x="15.6" y="140.8" transform="rotate(-90 15.6 140.8)" text-anchor="middle" class="b14">Power (a.u.)</text>
<text x="366.7" y="318.6" text-anchor="middle" class="b17" style="font-size:17px">Frequency (Hz)</text>
<circle cx="146.0" cy="448.5" r="3.4" fill="#808080"/>
<circle cx="206.8" cy="478.5" r="3.4" fill="#808080"/>
<circle cx="190.3" cy="499.4" r="3.4" fill="#808080"/>
<circle cx="108.3" cy="505.2" r="3.4" fill="#808080"/>
<circle cx="146.2" cy="515.7" r="3.4" fill="#808080"/>
<circle cx="206.8" cy="516.1" r="3.4" fill="#808080"/>
<circle cx="224.1" cy="513.2" r="3.4" fill="#808080"/>
<circle cx="224.1" cy="520.7" r="3.4" fill="#808080"/>
<circle cx="261.6" cy="514.4" r="3.4" fill="#808080"/>
<circle cx="146.2" cy="523.8" r="3.4" fill="#808080"/>
<circle cx="108.3" cy="526.3" r="3.4" fill="#808080"/>
<circle cx="132.7" cy="529.2" r="3.4" fill="#808080"/>
<circle cx="132.7" cy="533.2" r="3.4" fill="#808080"/>
<circle cx="160.0" cy="528.6" r="3.4" fill="#808080"/>
<circle cx="160.0" cy="531.5" r="3.4" fill="#808080"/>
<circle cx="174.5" cy="525.6" r="3.4" fill="#808080"/>
<circle cx="190.3" cy="525.0" r="3.4" fill="#808080"/>
<circle cx="190.3" cy="529.0" r="3.4" fill="#808080"/>
<circle cx="190.3" cy="533.0" r="3.4" fill="#808080"/>
<circle cx="108.3" cy="539.3" r="3.4" fill="#808080"/>
<circle cx="120.1" cy="541.7" r="3.4" fill="#808080"/>
<circle cx="132.7" cy="541.9" r="3.4" fill="#808080"/>
<circle cx="160.0" cy="540.5" r="3.4" fill="#808080"/>
<circle cx="174.5" cy="539.2" r="3.4" fill="#808080"/>
<circle cx="206.8" cy="536.4" r="3.4" fill="#808080"/>
<circle cx="224.1" cy="534.0" r="3.4" fill="#808080"/>
<circle cx="303.5" cy="539.3" r="3.4" fill="#808080"/>
<circle cx="108.3" cy="552.6" r="3.4" fill="#808080"/>
<circle cx="132.7" cy="548.4" r="3.4" fill="#808080"/>
<circle cx="132.7" cy="552.3" r="3.4" fill="#808080"/>
<circle cx="146.2" cy="549.3" r="3.4" fill="#808080"/>
<circle cx="174.5" cy="547.0" r="3.4" fill="#808080"/>
<circle cx="174.5" cy="553.2" r="3.4" fill="#808080"/>
<circle cx="190.3" cy="547.8" r="3.4" fill="#808080"/>
<circle cx="224.1" cy="559.4" r="3.4" fill="#808080"/>
<circle cx="242.3" cy="559.2" r="3.4" fill="#808080"/>
<path d="M35.5 363.4 V612.6 H323.5" fill="none" stroke="#a2a2a2" stroke-width="1"/>
<line x1="35.5" y1="612.6" x2="38.9" y2="612.6" stroke="#a2a2a2" stroke-width="1"/>
<text x="31.3" y="617.2" text-anchor="end" class="t">6</text>
<line x1="35.5" y1="562.8" x2="38.9" y2="562.8" stroke="#a2a2a2" stroke-width="1"/>
<text x="31.3" y="567.4" text-anchor="end" class="t">8</text>
<line x1="35.5" y1="512.9" x2="38.9" y2="512.9" stroke="#a2a2a2" stroke-width="1"/>
<text x="31.3" y="517.5" text-anchor="end" class="t">10</text>
<line x1="35.5" y1="463.1" x2="38.9" y2="463.1" stroke="#a2a2a2" stroke-width="1"/>
<text x="31.3" y="467.7" text-anchor="end" class="t">12</text>
<line x1="35.5" y1="413.2" x2="38.9" y2="413.2" stroke="#a2a2a2" stroke-width="1"/>
<text x="31.3" y="417.8" text-anchor="end" class="t">14</text>
<line x1="35.5" y1="363.4" x2="38.9" y2="363.4" stroke="#a2a2a2" stroke-width="1"/>
<text x="31.3" y="368.0" text-anchor="end" class="t">16</text>
<line x1="35.5" y1="612.6" x2="35.5" y2="609.6" stroke="#a2a2a2" stroke-width="1"/>
<text x="35.5" y="629" text-anchor="middle" class="t">.7</text>
<line x1="179.5" y1="612.6" x2="179.5" y2="609.6" stroke="#a2a2a2" stroke-width="1"/>
<text x="179.5" y="629" text-anchor="middle" class="t">1.4</text>
<line x1="323.5" y1="612.6" x2="323.5" y2="609.6" stroke="#a2a2a2" stroke-width="1"/>
<text x="323.5" y="629" text-anchor="middle" class="t">2.1</text>
<line x1="35.5" y1="531.8" x2="323.6" y2="528.0" stroke="#000" stroke-width="1.6"/>
<text x="57.2" y="380.4" class="r13">r=0.03, p=0.838</text>
<circle cx="602.6" cy="372.1" r="3.4" fill="#808080"/>
<circle cx="569.0" cy="385.3" r="3.4" fill="#808080"/>
<circle cx="620.9" cy="426.9" r="3.4" fill="#808080"/>
<circle cx="524.7" cy="429.8" r="3.4" fill="#808080"/>
<circle cx="602.6" cy="444.9" r="3.4" fill="#808080"/>
<circle cx="524.8" cy="467.4" r="3.4" fill="#808080"/>
<circle cx="511.2" cy="475.6" r="3.4" fill="#808080"/>
<circle cx="524.8" cy="475.1" r="3.4" fill="#808080"/>
<circle cx="620.9" cy="474.2" r="3.4" fill="#808080"/>
<circle cx="475.7" cy="487.0" r="3.4" fill="#808080"/>
<circle cx="511.2" cy="485.9" r="3.4" fill="#808080"/>
<circle cx="524.8" cy="486.2" r="3.4" fill="#808080"/>
<circle cx="602.7" cy="491.1" r="3.4" fill="#808080"/>
<circle cx="640.2" cy="505.2" r="3.4" fill="#808080"/>
<circle cx="475.7" cy="508.0" r="3.4" fill="#808080"/>
<circle cx="538.2" cy="508.3" r="3.4" fill="#808080"/>
<circle cx="585.4" cy="507.0" r="3.4" fill="#808080"/>
<circle cx="538.2" cy="515.6" r="3.4" fill="#808080"/>
<circle cx="524.7" cy="516.5" r="3.4" fill="#808080"/>
<circle cx="553.3" cy="517.0" r="3.4" fill="#808080"/>
<circle cx="568.8" cy="514.9" r="3.4" fill="#808080"/>
<circle cx="568.8" cy="519.1" r="3.4" fill="#808080"/>
<circle cx="640.2" cy="514.1" r="3.4" fill="#808080"/>
<circle cx="498.9" cy="517.2" r="3.4" fill="#808080"/>
<circle cx="498.9" cy="520.5" r="3.4" fill="#808080"/>
<circle cx="640.2" cy="523.0" r="3.4" fill="#808080"/>
<circle cx="553.3" cy="526.6" r="3.4" fill="#808080"/>
<circle cx="454.7" cy="530.5" r="3.4" fill="#808080"/>
<circle cx="585.4" cy="529.8" r="3.4" fill="#808080"/>
<circle cx="585.4" cy="531.8" r="3.4" fill="#808080"/>
<circle cx="498.9" cy="547.8" r="3.4" fill="#808080"/>
<circle cx="538.4" cy="553.4" r="3.4" fill="#808080"/>
<circle cx="568.9" cy="556.4" r="3.4" fill="#808080"/>
<circle cx="568.9" cy="557.6" r="3.4" fill="#808080"/>
<circle cx="602.7" cy="562.0" r="3.4" fill="#808080"/>
<circle cx="498.9" cy="562.6" r="3.4" fill="#808080"/>
<circle cx="511.4" cy="588.4" r="3.4" fill="#808080"/>
<circle cx="524.7" cy="591.6" r="3.4" fill="#808080"/>
<path d="M414.5 363.4 V612.6 H702.5" fill="none" stroke="#a2a2a2" stroke-width="1"/>
<line x1="414.5" y1="612.6" x2="417.9" y2="612.6" stroke="#a2a2a2" stroke-width="1"/>
<text x="410.3" y="617.2" text-anchor="end" class="t">6</text>
<line x1="414.5" y1="562.8" x2="417.9" y2="562.8" stroke="#a2a2a2" stroke-width="1"/>
<text x="410.3" y="567.4" text-anchor="end" class="t">8</text>
<line x1="414.5" y1="512.9" x2="417.9" y2="512.9" stroke="#a2a2a2" stroke-width="1"/>
<text x="410.3" y="517.5" text-anchor="end" class="t">10</text>
<line x1="414.5" y1="463.1" x2="417.9" y2="463.1" stroke="#a2a2a2" stroke-width="1"/>
<text x="410.3" y="467.7" text-anchor="end" class="t">12</text>
<line x1="414.5" y1="413.2" x2="417.9" y2="413.2" stroke="#a2a2a2" stroke-width="1"/>
<text x="410.3" y="417.8" text-anchor="end" class="t">14</text>
<line x1="414.5" y1="363.4" x2="417.9" y2="363.4" stroke="#a2a2a2" stroke-width="1"/>
<text x="410.3" y="368.0" text-anchor="end" class="t">16</text>
<line x1="414.5" y1="612.6" x2="414.5" y2="609.6" stroke="#a2a2a2" stroke-width="1"/>
<text x="414.5" y="629" text-anchor="middle" class="t">.7</text>
<line x1="558.5" y1="612.6" x2="558.5" y2="609.6" stroke="#a2a2a2" stroke-width="1"/>
<text x="558.5" y="629" text-anchor="middle" class="t">1.4</text>
<line x1="702.5" y1="612.6" x2="702.5" y2="609.6" stroke="#a2a2a2" stroke-width="1"/>
<text x="702.5" y="629" text-anchor="middle" class="t">2.1</text>
<line x1="414.5" y1="535.5" x2="702.4" y2="474.1" stroke="#000" stroke-width="1.6"/>
<text x="435.8" y="380.4" class="r13">r=0.22, p=0.189</text>
<text x="11.9" y="488.2" transform="rotate(-90 11.9 488.2)" text-anchor="middle" class="b14">Movement duration (s)</text>
<text x="369.3" y="669" text-anchor="middle" class="b17">Frequency Peak (Hz)</text>
</svg>
</body></html>
